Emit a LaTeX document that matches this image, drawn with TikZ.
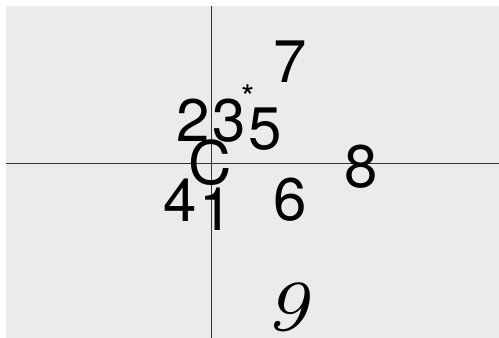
\documentclass[tikz,border=0pt]{standalone}
\usepackage{fontspec}
\newfontfamily\heros{TeX Gyre Heros}
\newfontfamily\ninefont{lmroman7-italic}[Extension=.otf]
\begin{document}
\begin{tikzpicture}[x=1pt,y=1pt,
  lbl/.style={inner sep=0pt, anchor=base, font=\heros\fontsize{60}{62}\selectfont},
  ast/.style={inner sep=0pt, anchor=center, font=\heros\fontsize{34}{36}\selectfont},
  nine/.style={inner sep=0pt, anchor=base, font=\ninefont\fontsize{72}{75}\selectfont},
  axis/.style={line width=0.9pt, draw=black!80}]
\useasboundingbox (0,0) rectangle (499,338);
\fill[black!8] (6,0) rectangle (499,332);
\coordinate (vt) at (211,332);
\coordinate (vb) at (211,0);
\coordinate (hl) at (6,175);
\coordinate (hr) at (499,175);
\draw[axis] (vt) -- (vb);
\draw[axis] (hl) -- (hr);
\node[lbl] (n7) at (290,{338-83}) {7};
\node[lbl] (n2) at (193,{338-142}) {2};
\node[lbl] (n3) at (229.5,{338-142}) {3};
\node[ast] (na) at (248.5,{338-97}) {*};
\node[lbl] (n5) at (265,{338-150}) {5};
\node[lbl] (nc) at (210.5,{338-185}) {C};
\node[lbl] (n4) at (180.5,{338-222}) {4};
\node[lbl] (n1) at (216,{338-231}) {1};
\node[lbl] (n6) at (290,{338-221}) {6};
\node[lbl] (n8) at (361,{338-188}) {8};
\node[nine] (n9) at (287,{338-330}) {9};
\end{tikzpicture}
\end{document}
